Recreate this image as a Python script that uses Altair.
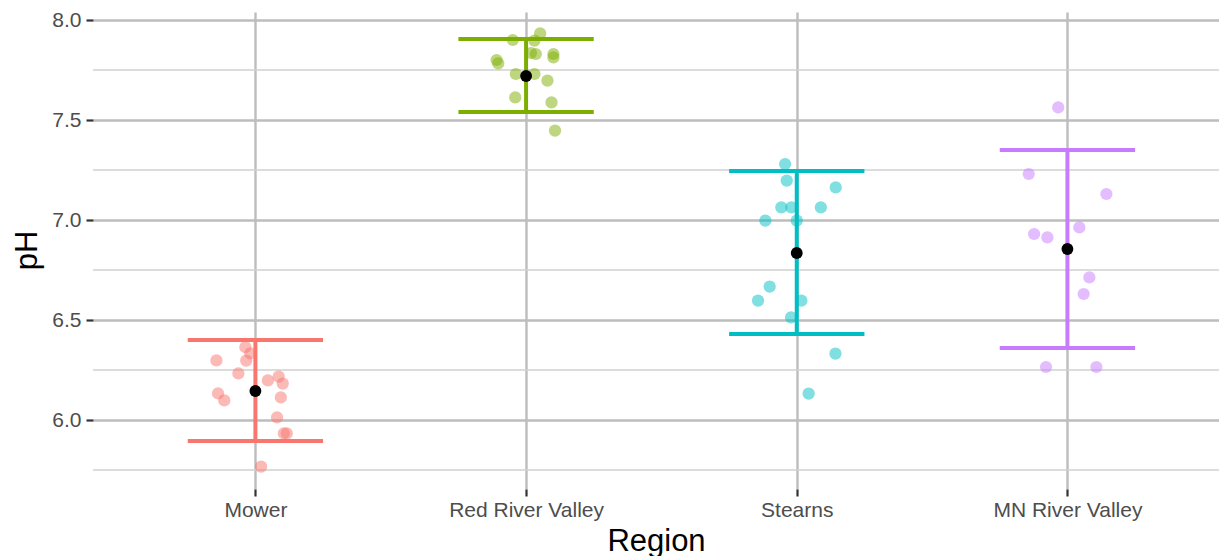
import json
import altair as alt
import pandas as pd

# ---- data ----
regions = ["Mower", "Red River Valley", "Stearns", "MN River Valley"]
colors = ["#F8766D", "#7CAE00", "#00BFC4", "#C77CFF"]

mower_ph = [6.364, 6.333, 6.298, 6.297, 6.233, 6.198, 6.217, 6.182, 6.133,
            6.098, 6.113, 6.013, 5.933, 5.933, 5.767]
mower_jit = [-0.037, -0.019, -0.144, -0.034, -0.063, 0.046, 0.086, 0.101,
             -0.138, -0.115, 0.094, 0.080, 0.105, 0.116, 0.021]

rrv_ph = [7.900, 7.933, 7.897, 7.835, 7.830, 7.830, 7.813, 7.800, 7.783,
          7.730, 7.730, 7.697, 7.613, 7.588, 7.447]
rrv_jit = [-0.049, 0.052, 0.031, 0.018, 0.036, 0.101, 0.101, -0.109, -0.103,
           -0.038, 0.031, 0.079, -0.040, 0.094, 0.107]

stearns_ph = [7.280, 7.197, 7.163, 7.063, 7.063, 7.063, 6.997, 6.997, 6.667,
              6.597, 6.597, 6.513, 6.332, 6.132]
stearns_jit = [-0.043, -0.037, 0.144, -0.057, -0.020, 0.089, -0.116, 0.000,
               -0.100, -0.143, 0.017, -0.021, 0.143, 0.044]

mnrv_ph = [7.563, 7.230, 7.130, 6.963, 6.930, 6.913, 6.713, 6.630, 6.265, 6.265]
mnrv_jit = [-0.034, -0.143, 0.144, 0.044, -0.123, -0.074, 0.081, 0.060,
            -0.079, 0.107]

means = [6.145, 7.720, 6.835, 6.855]
lowers = [5.895, 7.540, 6.430, 6.360]
uppers = [6.400, 7.905, 7.245, 7.350]
cap_half = 0.25

y_major = [6.0, 6.5, 7.0, 7.5, 8.0]
y_minor = [5.75, 6.25, 6.75, 7.25, 7.75]

# ---- tables ----
rows = []
for i, (phs, jits) in enumerate([(mower_ph, mower_jit), (rrv_ph, rrv_jit),
                                 (stearns_ph, stearns_jit), (mnrv_ph, mnrv_jit)]):
    for p, j in zip(phs, jits):
        rows.append({"region": regions[i], "x": i + 1 + j, "ph": p})
pts = pd.DataFrame(rows)

stats = pd.DataFrame({
    "region": regions,
    "idx": [1, 2, 3, 4],
    "xl": [k - cap_half for k in [1, 2, 3, 4]],
    "xr": [k + cap_half for k in [1, 2, 3, 4]],
    "mean": means,
    "lo": lowers,
    "hi": uppers,
})
minor_df = pd.DataFrame({"v": y_minor})

FONT = "Liberation Sans"
xscale = alt.Scale(domain=[0.4, 4.56], nice=False, zero=False)
yscale = alt.Scale(domain=[5.655, 8.04], nice=False, zero=False)
cscale = alt.Scale(domain=regions, range=colors)

label_expr = json.dumps(regions) + "[datum.value - 1]"
xaxis = alt.Axis(values=[1, 2, 3, 4], labelExpr=label_expr, title="Region",
                 grid=True, gridColor="#bdbdbd", gridWidth=2.4, domain=False,
                 ticks=True, tickColor="#333333", tickWidth=2.2, tickSize=7,
                 labelColor="#4d4d4d", labelFontSize=21, labelFont=FONT,
                 labelPadding=3, labelFlush=False,
                 titleFont=FONT, titleFontSize=31, titleColor="#000000",
                 titleFontWeight="normal", titleY=61, titleBaseline="alphabetic",
                 titleAnchor="middle")
yaxis = alt.Axis(values=y_major, format=".1f", title="pH",
                 grid=True, gridColor="#bdbdbd", gridWidth=2.4, domain=False,
                 ticks=True, tickColor="#333333", tickWidth=2.2, tickSize=7,
                 labelColor="#4d4d4d", labelFontSize=21, labelFont=FONT,
                 labelPadding=5,
                 titleFont=FONT, titleFontSize=31, titleColor="#000000",
                 titleFontWeight="normal", titleX=-66, titleY=238,
                 titleAngle=-90, titleBaseline="middle", titleAlign="center")

minor = alt.Chart(minor_df).mark_rule(color="#d0d0d0", strokeWidth=1.6).encode(
    y=alt.Y("v:Q", scale=yscale, axis=yaxis)
)

points = alt.Chart(pts).mark_circle(size=150, opacity=0.5).encode(
    x=alt.X("x:Q", scale=xscale, axis=xaxis),
    y=alt.Y("ph:Q", scale=yscale, axis=yaxis),
    color=alt.Color("region:N", scale=cscale, legend=None),
)

vbar = alt.Chart(stats).mark_rule(strokeWidth=4).encode(
    x=alt.X("idx:Q", scale=xscale, axis=xaxis),
    y=alt.Y("lo:Q", scale=yscale, axis=yaxis),
    y2="hi:Q",
    color=alt.Color("region:N", scale=cscale, legend=None),
)
cap_lo = alt.Chart(stats).mark_rule(strokeWidth=4).encode(
    x=alt.X("xl:Q", scale=xscale, axis=xaxis),
    x2="xr:Q",
    y=alt.Y("lo:Q", scale=yscale, axis=yaxis),
    color=alt.Color("region:N", scale=cscale, legend=None),
)
cap_hi = alt.Chart(stats).mark_rule(strokeWidth=4).encode(
    x=alt.X("xl:Q", scale=xscale, axis=xaxis),
    x2="xr:Q",
    y=alt.Y("hi:Q", scale=yscale, axis=yaxis),
    color=alt.Color("region:N", scale=cscale, legend=None),
)
mean_pts = alt.Chart(stats).mark_circle(size=140, opacity=1, color="black").encode(
    x=alt.X("idx:Q", scale=xscale, axis=xaxis),
    y=alt.Y("mean:Q", scale=yscale, axis=yaxis),
)

chart = alt.layer(minor, points, vbar, cap_lo, cap_hi, mean_pts).properties(
    width=1126, height=477,
    background="white",
    autosize=alt.AutoSizeParams(type="none"),
    padding={"left": 85, "top": 4, "right": 0, "bottom": 70},
).configure_view(stroke=None)

chart.save("out.html", embed_options={"renderer": "svg", "actions": False})
